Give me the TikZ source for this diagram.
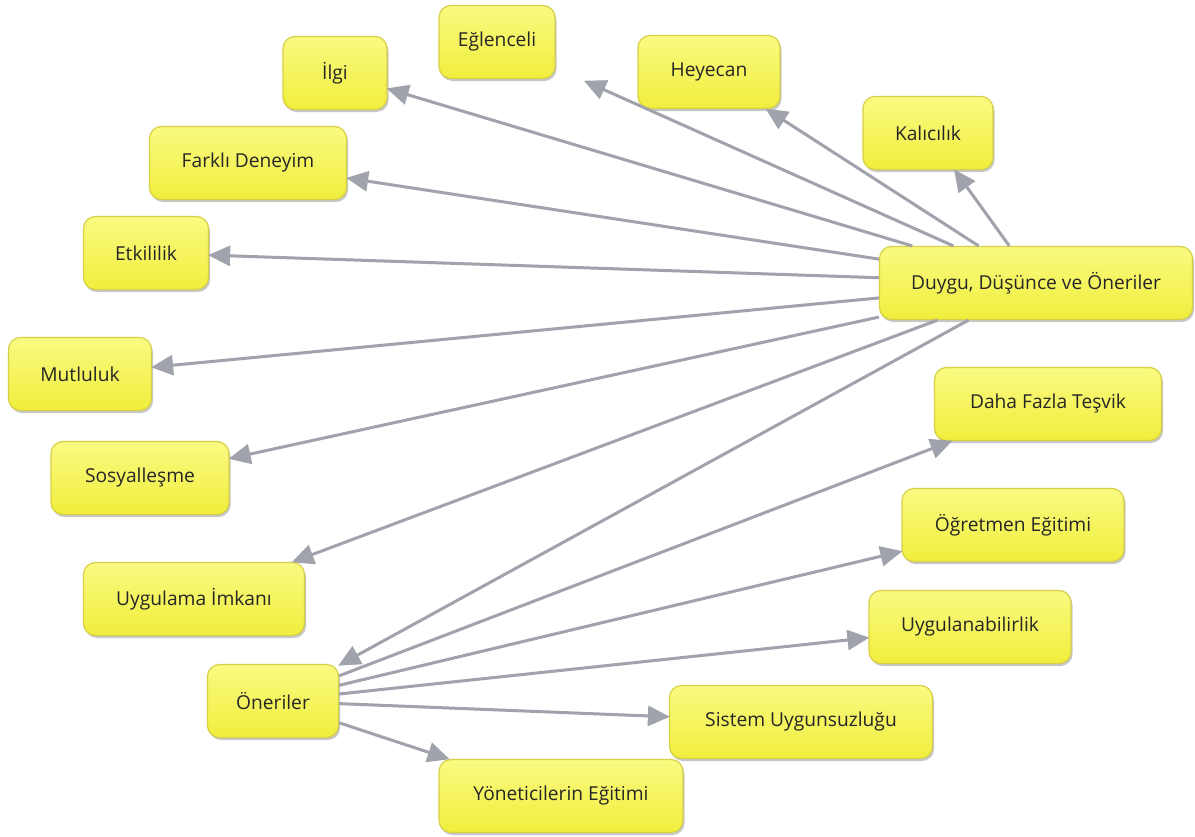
\documentclass[tikz,border=0pt]{standalone}
\usepackage{fontspec}
\setmainfont{Open Sans}
\usetikzlibrary{arrows.meta,shadows}
\definecolor{arrowgray}{RGB}{160,162,172}
\definecolor{boxtop}{RGB}{250,250,130}
\definecolor{boxbot}{RGB}{240,238,60}
\definecolor{boxline}{RGB}{215,208,70}
\tikzset{
  box/.style={draw=boxline, line width=1.2pt, rounded corners=12pt,
    top color=boxtop, bottom color=boxbot, minimum height=73pt,
    inner sep=0pt, font=\fontsize{19.2}{22}\selectfont, text=black!85,
    drop shadow={shadow xshift=1.5pt, shadow yshift=-2.5pt, opacity=0.22, fill=black}},
  link/.style={draw=arrowgray, line width=3pt,
    -{Triangle[length=22pt,width=20pt]}, shorten >=-1pt}
}
\begin{document}
\begin{tikzpicture}[x=1pt,y=-1pt]
\useasboundingbox (0,0) rectangle (1195,836);
\node[box, minimum width=104pt] (ilgi) at (335,73) {İlgi};
\node[box, minimum width=116pt] (eglenceli) at (497,42) {Eğlenceli};
\node[box, minimum width=142pt] (heyecan) at (709,72) {Heyecan};
\node[box, minimum width=130pt] (kalicilik) at (928,133) {Kalıcılık};
\node[box, minimum width=197pt] (farkli) at (248,163) {Farklı Deneyim};
\node[box, minimum width=125pt] (etkililik) at (146,253) {Etkililik};
\node[box, minimum width=313pt] (duygu) at (1036,283) {Duygu, Düşünce ve Öneriler};
\node[box, minimum width=143pt] (mutluluk) at (80,374) {Mutluluk};
\node[box, minimum width=178pt] (sosyal) at (140,478) {Sosyalleşme};
\node[box, minimum width=227pt] (tesvik) at (1048,404) {Daha Fazla Teşvik};
\node[box, minimum width=222pt] (ogretmen) at (1013,525) {Öğretmen Eğitimi};
\node[box, minimum width=221pt] (imkan) at (194,599) {Uygulama İmkanı};
\node[box, minimum width=202pt] (uygulanabilir) at (970,627) {Uygulanabilirlik};
\node[box, minimum width=131pt] (oneriler) at (273,701) {Öneriler};
\node[box, minimum width=263pt] (sistem) at (801,722) {Sistem Uygunsuzluğu};
\node[box, minimum width=244pt] (yonetici) at (561,796) {Yöneticilerin Eğitimi};

\foreach \t in {ilgi,heyecan,kalicilik,farkli,etkililik,mutluluk,sosyal,imkan,oneriler}
  \draw[link] (duygu) -- (\t);
\draw[link, shorten >=31pt] (duygu) -- (eglenceli);
\foreach \t in {tesvik,ogretmen,uygulanabilir,sistem,yonetici}
  \draw[link] (oneriler) -- (\t);
\end{tikzpicture}
\end{document}
